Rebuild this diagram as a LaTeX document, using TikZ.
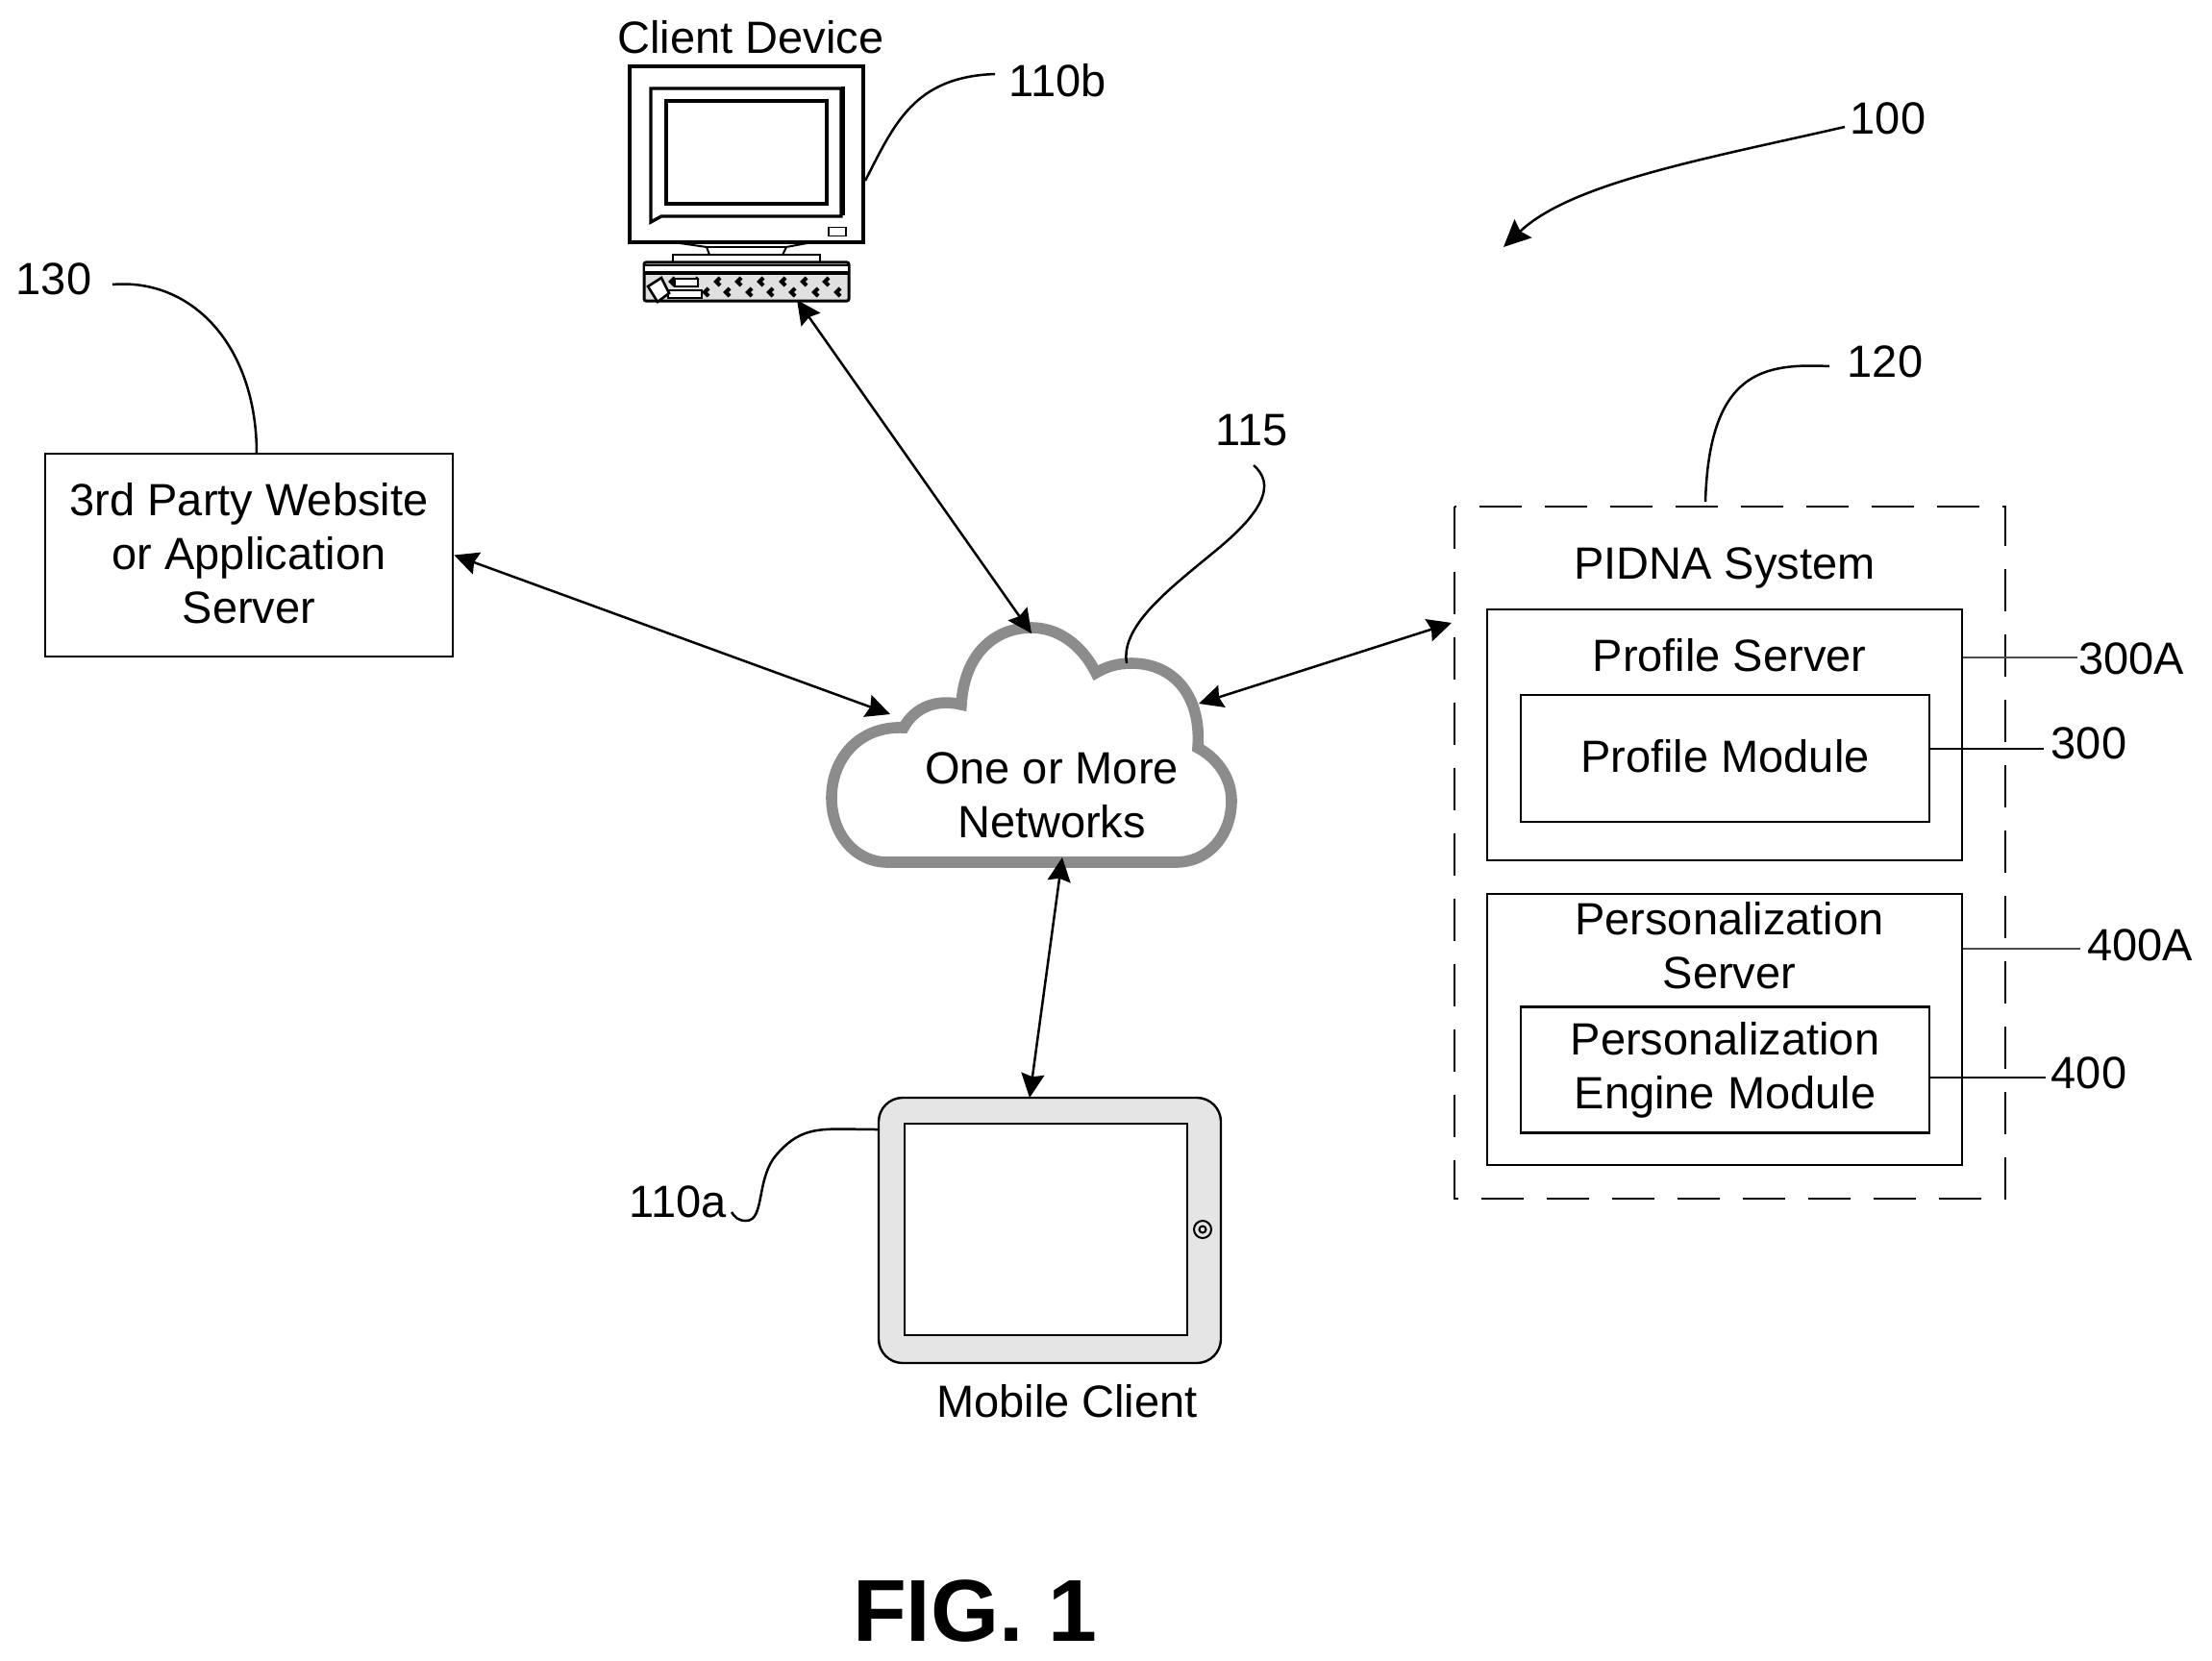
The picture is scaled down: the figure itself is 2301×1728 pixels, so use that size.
\documentclass[tikz,border=0pt]{standalone}
\usepackage{fontspec}
\setmainfont{Liberation Sans}
\usetikzlibrary{arrows.meta}
\tikzset{every picture/.style={line width=1.25pt}}
\tikzset{
  txt/.style={font=\fontsize{23.5}{28}\selectfont,align=center,inner sep=0pt},
  reftxt/.style={txt},
  boxnode/.style={draw,txt,line width=1.4pt},
  leadline/.style={line width=1.25pt},
  thinline/.style={line width=0.7pt,draw=black!70},
  ruleline/.style={line width=1pt},
  biarrow/.style={{Stealth[length=12.5pt,width=12pt,inset=1.5pt]}-{Stealth[length=12.5pt,width=12pt,inset=1.5pt]},line width=1.25pt},
  keymark/.style={line width=2pt}
}

\begin{document}
\begin{tikzpicture}[x=0.5pt,y=0.5pt,yscale=-1,xscale=1]
\useasboundingbox (0,0) rectangle (2301,1728);

%Shape: Monitor
\draw [line width=1.6pt,fill=white] (655,69) rectangle (898,252);
\draw [line width=1.7pt] (677,231) -- (677,92) -- (875,92) -- (875,225) -- (688,225) -- cycle;
\draw [line width=2pt] (693,105) rectangle (860,212);
\draw [line width=1.6pt] (877,90) -- (877,224);
\node (monbtn) [draw,line width=0.9pt,minimum width=9pt,minimum height=4.5pt,inner sep=0pt] at (871,241) {};
%Shape: Stand
\draw [line width=1pt] (700,252) -- (735,257) -- (738,265);
\draw [line width=1pt] (845,252) -- (818,257) -- (814,265);
\draw [line width=1.4pt] (735,257) -- (818,257);
\draw [line width=1.4pt] (700,273) -- (700,265) -- (853,265) -- (853,273);
%Shape: Keyboard
\draw [line width=1.5pt,fill=black!12,rounded corners=1pt] (670,273) rectangle (883,313);
\draw [line width=1pt,fill=white] (670,276) rectangle (883,284);
\draw [line width=1.7pt] (670,284) -- (883,284);
\foreach \kx in {698,722,745,767,790,813,835,858}
  \draw [keymark] (\kx+4,289) -- (\kx,293) -- (\kx+4,297);
\foreach \kx in {733,755,778,800,823,847,870}
  \draw [keymark] (\kx+4,300) -- (\kx,304) -- (\kx+4,308);
\draw [line width=1.3pt,fill=white] (702,290) rectangle (726,298);
\draw [line width=1.3pt,fill=white] (695,302) rectangle (730,310);
\draw [line width=1.3pt,fill=white] (674,298) -- (688,289) -- (696,305) -- (684,314) -- cycle;

%Shape: Cloud
\draw [line width=5.8pt,draw=black!45,fill=white,line join=miter,miter limit=3] (923,897) -- (1223,897) .. controls (1258,897) and (1281,868) .. (1281,833) .. controls (1281,808) and (1265,788) .. (1246,778) .. controls (1250,725) and (1222,690) .. (1177,690) .. controls (1162,690) and (1150,694) .. (1140,700) .. controls (1125,670) and (1100,653) .. (1073,653) .. controls (1035,653) and (1003,680) .. (1000,733) .. controls (975,727) and (952,735) .. (940,757) .. controls (893,755) and (865,790) .. (865,830) .. controls (865,868) and (890,897) .. (923,897) -- cycle;

%Shape: Tablet
\draw [line width=1.2pt,fill=black!10,rounded corners=12.5pt] (914,1142) rectangle (1270,1418);
\draw [line width=1.3pt,fill=white] (941,1169) rectangle (1235,1389);
\draw [line width=1pt] (1251,1279) circle (9);
\draw [line width=1pt] (1251,1279) circle (3.5);

% Text Node
\node (clientlab) [txt] at (781,39) {Client Device};
\node (lab110b) [reftxt] at (1100,84) {110b};
\node (lab100) [reftxt] at (1964,123.5) {100};
\node (lab130) [reftxt] at (56,290) {130};
\node (lab120) [reftxt] at (1961,376) {120};
\node (lab115) [reftxt] at (1302,448) {115};
\node (lab110a) [reftxt] at (705,1250) {110a};
\node (mobilelab) [txt] at (1110,1457.5) {Mobile Client};
\node (networks) [txt] at (1094,827) {One or More\\Networks};
\node (figlab) [font=\fontsize{45.7}{50}\selectfont\bfseries,inner sep=0pt,anchor=base] at (1014,1707) {FIG. 1};

% Boxes
\node (thirdparty) [boxnode,text depth=2.5pt,minimum width=212pt,minimum height=105.5pt] at (259,577.5) {3rd Party Website\\or Application\\Server};
\draw [dash pattern=on 22pt off 12pt,line width=1.4pt] (1513,527) rectangle (2086,1247);
\coordinate (pidnaw) at (1510,648);
\node (pidnalab) [txt] at (1794,590.5) {PIDNA System};
\node (profsrv) [draw,line width=1.4pt,minimum width=247pt,minimum height=130.5pt] at (1794,764.5) {};
\node (profsrvlab) [txt] at (1799,681.5) {Profile Server};
\node (profmod) [boxnode,text depth=3pt,minimum width=212.5pt,minimum height=66pt] at (1794.5,789) {Profile Module};
\node (perssrv) [draw,line width=1.4pt,minimum width=247pt,minimum height=141pt] at (1794,1071) {};
\node (perssrvlab) [txt] at (1799,984) {Personalization\\Server};
\node (persmod) [boxnode,minimum width=212.5pt,minimum height=65.5pt] at (1794.5,1113) {Personalization\\Engine Module};
\node (lab300a) [reftxt] at (2217,685) {300A};
\node (lab300) [reftxt] at (2173,773) {300};
\node (lab400a) [reftxt] at (2226,983) {400A};
\node (lab400) [reftxt] at (2173,1116) {400};

% Connectors
\coordinate (monb) at (829,312);
\coordinate (cloudn) at (1073,659);
\coordinate (cloudw) at (926,743);
\coordinate (cloude) at (1247,732);
\coordinate (clouds) at (1105,892);
\coordinate (tabn) at (1071,1142);
\draw [biarrow] (monb) -- (cloudn);
\draw [biarrow] (thirdparty.east) -- (cloudw);
\draw [biarrow] (cloude) -- (pidnaw);
\draw [biarrow] (clouds) -- (tabn);

% Leader lines
\coordinate (end110b) at (1035,77);
\coordinate (end300a) at (2161,684);
\coordinate (end300) at (2126,779);
\coordinate (end400a) at (2164,987);
\coordinate (end400) at (2128,1121);
\coordinate (top120) at (1774,522);
\draw [leadline] (900,188) .. controls (930,130) and (950,80) .. (end110b);
\draw [leadline] (117,296) .. controls (200,289) and (267,360) .. (267,472);
\draw [leadline] (1903,381) .. controls (1835,378) and (1778,385) .. (top120);
\draw [leadline] (1304,484) .. controls (1326,503) and (1316,530) .. (1268,570) .. controls (1220,610) and (1165,650) .. (1172,690);
\draw [leadline] (914,1175) .. controls (856,1175) and (836,1169) .. (808,1201) .. controls (786,1226) and (796,1270) .. (776,1270) .. controls (768,1270) and (764,1266) .. (761,1261);
\draw [leadline,-{Stealth[length=14pt,width=13pt,inset=2pt]}] (1919,132) .. controls (1775,165) and (1635,190) .. (1564,257);
\draw [thinline] (profsrv.east |- end300a) -- (end300a);
\draw [ruleline] (profmod.east |- end300) -- (end300);
\draw [thinline] (perssrv.east |- end400a) -- (end400a);
\draw [ruleline] (persmod.east |- end400) -- (end400);

\end{tikzpicture}
\end{document}
